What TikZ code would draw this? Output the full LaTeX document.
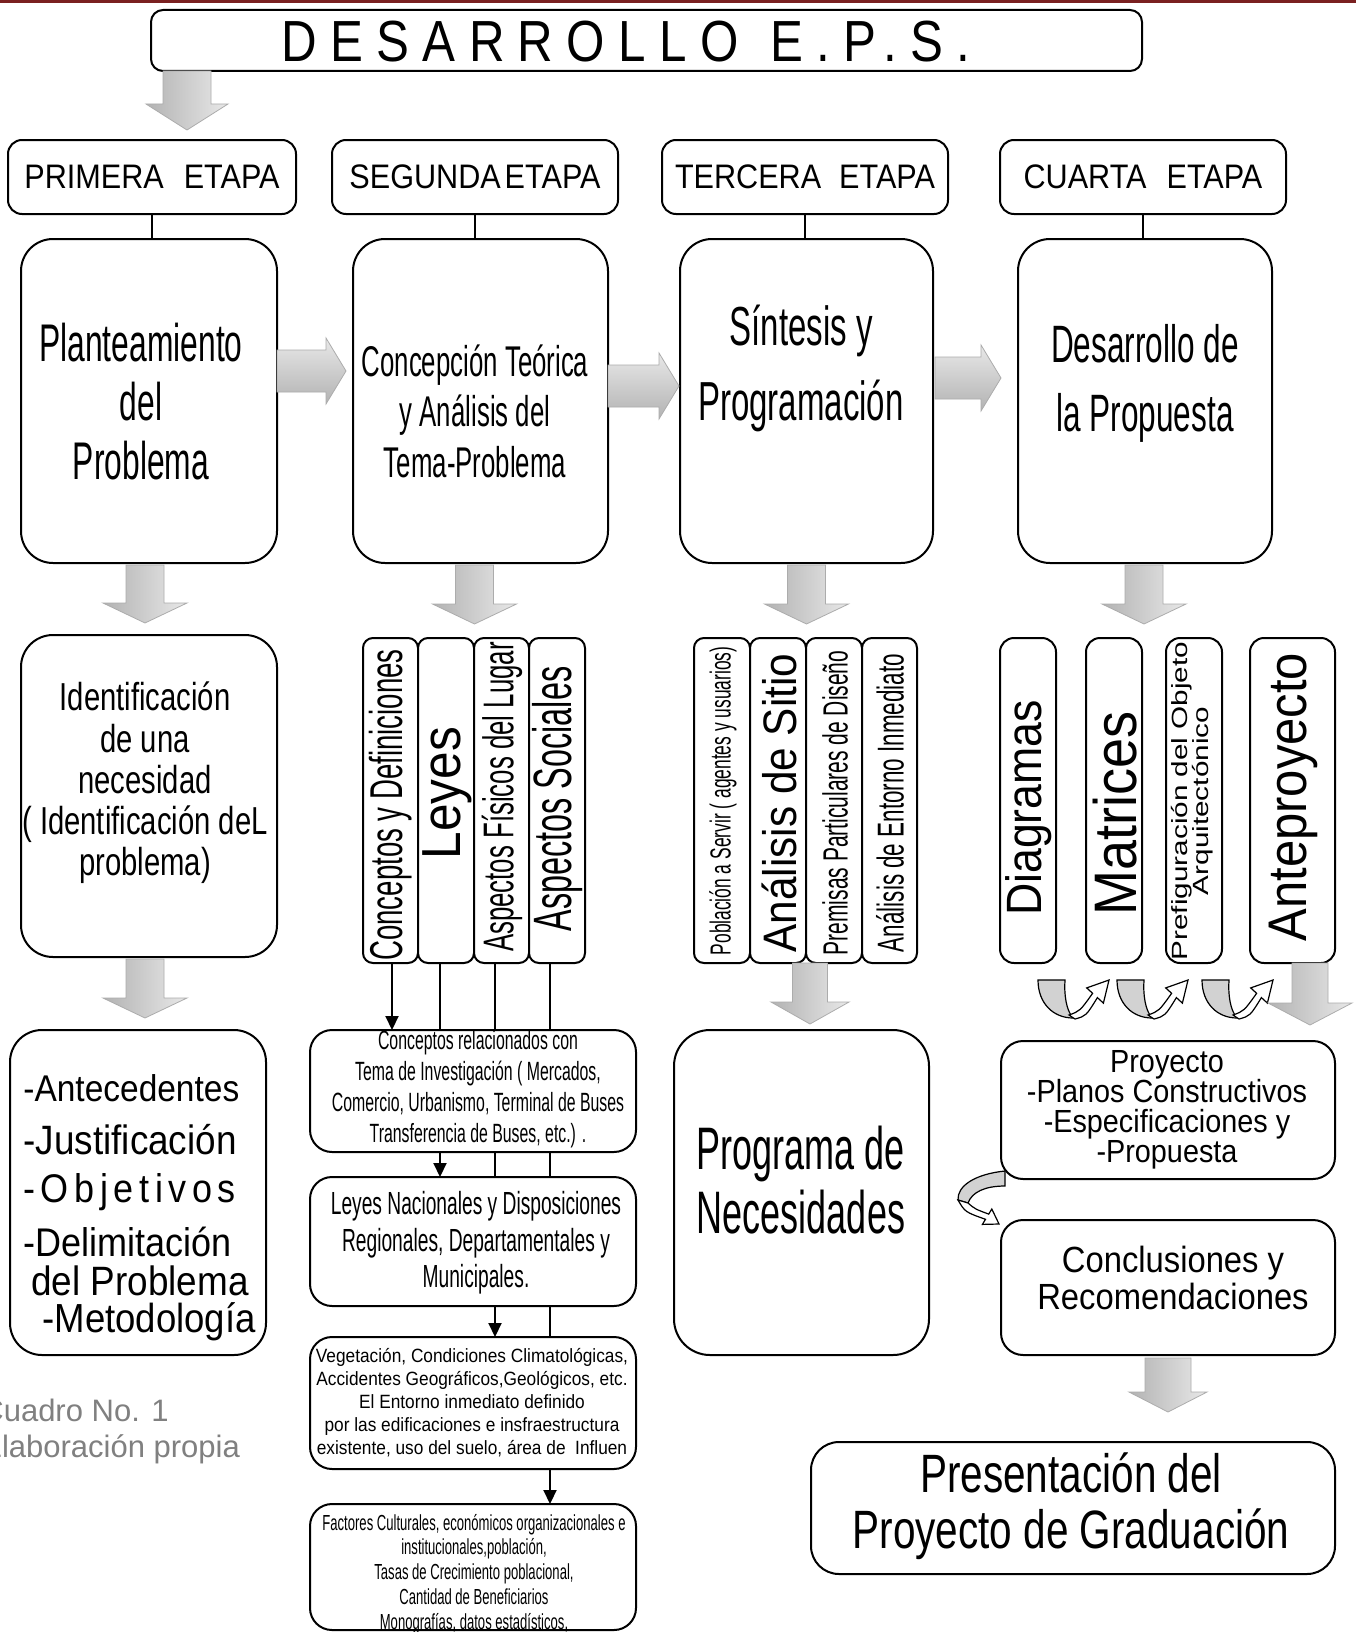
\documentclass[tikz,border=0pt]{standalone}
\usepackage{fontspec}
\newfontfamily\fnarrow[FakeStretch=0.6]{Liberation Sans}
\newfontfamily\fnmid[FakeStretch=0.75]{Liberation Sans}
\newfontfamily\fnwide[FakeStretch=0.9]{Liberation Sans}
\newfontfamily\fnext[FakeStretch=1.35]{Liberation Sans}
\newfontfamily\fncap{Liberation Sans}
\newfontfamily\fntitle[FakeStretch=0.85,LetterSpace=23]{Liberation Sans}
\newfontfamily\fnspaced[FakeStretch=0.9,LetterSpace=14]{Liberation Sans}
\usetikzlibrary{fit,calc,arrows.meta,backgrounds}
\newcommand\fs[2]{\fontsize{#1}{#2}\selectfont}
\definecolor{topred}{RGB}{122,32,32}
\definecolor{capgray}{RGB}{128,128,128}
\tikzset{
 bx/.style={draw, line width=1pt, fill=white, rounded corners=#1, inner sep=0pt, outer sep=0pt},
 bx/.default=7pt,
 lbl/.style={inner sep=0pt, align=center, text=black},
 conn/.style={line width=1pt},
 tipline/.style={conn, -{Triangle[length=7pt,width=6.5pt]}},
 blk/.style={left color=gray!60, right color=gray!18, draw=gray!65, line width=0.4pt},
 blkh/.style={top color=gray!18, bottom color=gray!60, draw=gray!65, line width=0.4pt},
 uband/.style={fill=gray!35, draw=black, line width=0.6pt},
 uhead/.style={fill=white, draw=black, line width=0.6pt},
}
\newcommand{\vblock}[5]{\path[blk] let \p1=(#1), \p2=(#2) in
 (\x1-#3,\y1) -- (\x1+#3,\y1) -- (\x1+#3,\y2+#5) -- (\x1+#4,\y2+#5) -- (\x1,\y2) -- (\x1-#4,\y2+#5) -- (\x1-#3,\y2+#5) -- cycle;}
\newcommand{\hblock}[5]{\path[blkh] let \p1=(#1), \p2=(#2) in
 (\x1,\y1+#3) -- (\x2-#5,\y1+#3) -- (\x2-#5,\y1+#4) -- (\x2,\y1) -- (\x2-#5,\y1-#4) -- (\x2-#5,\y1-#3) -- (\x1,\y1-#3) -- cycle;}
\newcommand{\uturn}[1]{\begin{scope}[shift={#1}]
 \path[uband] (0,0) .. controls (0,24) and (16,38) .. (35,38) .. controls (28,30) and (26,14) .. (27,0) -- cycle;
 \path[uhead] (31,35) .. controls (42,31) .. (54.6,13.3) -- (48.7,7.9) -- (71,0) -- (65.4,23.1) -- (59.4,17.6) .. controls (48,36) .. (37,39) -- cycle;
\end{scope}}
\begin{document}
\begin{tikzpicture}[x=0.5pt,y=-0.5pt]
\useasboundingbox (0,0) rectangle (1356,1632);
\begin{pgfonlayer}{background}
\fill[white] (0,0) rectangle (1356,1632);
\end{pgfonlayer}
\fill[topred] (0,0) rectangle (1356,3);

% title
\node[bx=6pt, fit={(151,10) (1142,71)}] (title) {};
\node[lbl, font=\fntitle\fs{29}{31}] (titlet) at (626,42) {DESARROLLO\hspace{16pt}E.P.S.};

% stage headers
\node[bx=7pt, fit={(8,140) (296,214)}] (s1) {};
\node[bx=7pt, fit={(332,140) (618,214)}] (s2) {};
\node[bx=7pt, fit={(662,140) (948,214)}] (s3) {};
\node[bx=7pt, fit={(1000,140) (1286,214)}] (s4) {};
\node[lbl, font=\fnwide\fs{17}{20}] (s1t) at (s1) {PRIMERA\hspace{10pt}ETAPA};
\node[lbl, font=\fnwide\fs{17}{20}] (s2t) at (s2) {SEGUNDA\hspace{2pt}ETAPA};
\node[lbl, font=\fnwide\fs{17}{20}] (s3t) at (s3) {TERCERA\hspace{9pt}ETAPA};
\node[lbl, font=\fnwide\fs{17}{20}] (s4t) at (s4) {CUARTA\hspace{10pt}ETAPA};

% main boxes
\node[bx=16pt, fit={(21,239) (277,563)}] (m1) {};
\node[bx=16pt, fit={(353,239) (608,563)}] (m2) {};
\node[bx=16pt, fit={(680,239) (933,563)}] (m3) {};
\node[bx=16pt, fit={(1018,239) (1272,563)}] (m4) {};
\node[lbl, font=\fnarrow\fs{26.5}{29.5}] (m1t) at (141,402) {Planteamiento\\del\\Problema};
\node[lbl, font=\fnarrow\fs{21.5}{25.3}] (m2t) at (475,411) {Concepción Teórica\\y Análisis del\\Tema-Problema};
\node[lbl, font=\fnarrow\fs{27.5}{37.5}] (m3t) at (801,368) {Síntesis y\\Programación};
\node[lbl, font=\fnarrow\fs{26.3}{34.5}] (m4t) at (1145,383) {Desarrollo de\\la Propuesta};

\foreach \i in {1,...,4}{\draw[conn] (s\i.south) -- (s\i.south |- m\i.north);}

% horizontal block arrows
\hblock{$(m1.east)+(0,-30)$}{$(m2.west)+(-7,0)$}{10.5pt}{16.5pt}{10pt}
\hblock{$(m2.east)+(0,-15)$}{$(m3.west)+(-1,0)$}{10.5pt}{16.5pt}{10pt}
\hblock{$(m3.east)+(2,-23)$}{$(m4.west)+(-17,0)$}{10.5pt}{16.5pt}{10pt}

% top block arrow
\coordinate (ta) at ($(title.south west)+(36,0)$);
\coordinate (tb) at ($(s1.north)+(0,-10)$);
\vblock{ta}{tb}{12pt}{20.5pt}{13pt}

% row 3
\node[bx=16pt, fit={(21,635) (277,957)}] (r1) {};
\node[lbl, font=\fnmid\fs{19.5}{20.6}] (r1t) at (145,783) {Identificación\\de una\\necesidad\\( Identificación deL\\problema)};

\node[bx=5pt, fit={(363,638) (418,963)}] (c1) {};
\node[bx=5pt, fit={(418,638) (474,963)}] (c2) {};
\node[bx=5pt, fit={(474,638) (529,963)}] (c3) {};
\node[bx=5pt, fit={(529,638) (585,963)}] (c4) {};
\node[lbl, rotate=90, font=\fnarrow\fs{23}{25}] (c1t) at (391,805) {Conceptos y Definiciones};
\node[lbl, rotate=90, font=\fnwide\fs{27.5}{29}] (c2t) at (447,793) {Leyes};
\node[lbl, rotate=90, font=\fnarrow\fs{21.5}{23}] (c3t) at (502,797) {Aspectos Físicos del Lugar};
\node[lbl, rotate=90, font=\fnarrow\fs{27}{29}] (c4t) at (558,799) {Aspectos Sociales};

\node[bx=5pt, fit={(694,638) (750,963)}] (t1) {};
\node[bx=5pt, fit={(750,638) (806,963)}] (t2) {};
\node[bx=5pt, fit={(806,638) (862,963)}] (t3) {};
\node[bx=5pt, fit={(862,638) (917,963)}] (t4) {};
\node[lbl, rotate=90, font=\fnarrow\fs{14.5}{16}] (t1t) at (723,801) {Población a Servir ( agentes y usuarios)};
\node[lbl, rotate=90, font=\fnwide\fs{23.5}{25}] (t2t) at (779,803) {Análisis de Sitio};
\node[lbl, rotate=90, font=\fnarrow\fs{17.5}{19}] (t3t) at (835,803) {Premisas Particulares de Diseño};
\node[lbl, rotate=90, font=\fnarrow\fs{18.7}{20}] (t4t) at (890,803) {Análisis de Entorno Inmediato};

\node[bx=7pt, fit={(1000,638) (1056,963)}] (d1) {};
\node[bx=7pt, fit={(1086,638) (1142,963)}] (d2) {};
\node[bx=7pt, fit={(1166,638) (1222,963)}] (d3) {};
\node[bx=7pt, fit={(1250,638) (1335,963)}] (d4) {};
\node[lbl, rotate=90, font=\fnwide\fs{24.8}{26}] (d1t) at (1029,808) {Diagramas};
\node[lbl, rotate=90, font=\fnwide\fs{30}{32}] (d2t) at (1115,813) {Matrices};
\node[lbl, rotate=90, font=\fnext\fs{11}{10.5}] (d3t) at (1192,801) {Prefiguración del Objeto\\Arquitectónico};
\node[lbl, rotate=90, font=\fnwide\fs{27.2}{29}] (d4t) at (1293,797) {Anteproyecto};

% down block arrows from main boxes
\vblock{$(m1.south)+(-4,2)$}{$(r1.north)+(0,-12)$}{9.5pt}{21pt}{10pt}
\vblock{$(m2.south)+(-6,2)$}{$(m2.south)+(0,61)$}{9.5pt}{21pt}{10pt}
\vblock{$(m3.south)+(0,2)$}{$(m3.south)+(0,61)$}{9.5pt}{21pt}{10pt}
\vblock{$(m4.south)+(-1,2)$}{$(m4.south)+(0,61)$}{9.5pt}{21pt}{10pt}

% row 4
\node[bx=16pt, fit={(10,1030) (266,1355)}] (q1) {};
\node[lbl, anchor=west, font=\fnwide\fs{18.6}{20}] (q1a) at (23,1088) {-Antecedentes};
\node[lbl, anchor=west, font=\fnwide\fs{20.5}{22}] (q1b) at (23,1140) {-Justificación};
\node[lbl, anchor=west, font=\fnspaced\fs{20}{22}] (q1c) at (23,1192) {-Objetivos};
\node[lbl, anchor=west, font=\fnwide\fs{20}{21}] (q1d) at (23,1242) {-Delimitación};
\node[lbl, anchor=west, font=\fnwide\fs{20.5}{21}] (q1e) at (31,1281) {del Problema};
\node[lbl, anchor=west, font=\fnwide\fs{20.3}{22}] (q1f) at (42,1322) {-Metodología};
\vblock{$(r1.south)+(-4,2)$}{$(q1.north)+(0,-12)$}{9.5pt}{21pt}{10pt}

\node[bx=11pt, fit={(310,1030) (636,1152)}] (k1) {};
\node[bx=11pt, fit={(310,1177) (636,1306)}] (k2) {};
\node[bx=11pt, fit={(310,1337) (636,1469)}] (k3) {};
\node[bx=11pt, fit={(310,1504) (636,1630)}] (k4) {};
\node[lbl, font=\fnarrow\fs{13.2}{15.5}] (k1t) at (478,1089) {Conceptos relacionados con\\Tema de Investigación ( Mercados,\\Comercio, Urbanismo, Terminal de Buses\\Transferencia de Buses, etc.) .};
\node[lbl, font=\fnarrow\fs{16}{18.3}] (k2t) at (476,1243) {Leyes Nacionales y Disposiciones\\Regionales, Departamentales y\\Municipales.};
\node[lbl, font=\fnwide\fs{9.6}{11.5}] (k3t) at (472,1403) {Vegetación, Condiciones Climatológicas,\\Accidentes Geográficos,Geológicos, etc.\\El Entorno inmediato definido\\por las edificaciones e insfraestructura\\existente, uso del suelo, área de\ \ Influen};
\node[lbl, font=\fnarrow\fs{10.9}{12.4}] (k4t) at (474,1574) {Factores Culturales, económicos organizacionales e\\institucionales,población,\\Tasas de Crecimiento poblacional,\\Cantidad de Beneficiarios\\Monografías, datos estadísticos,};

\begin{pgfonlayer}{background}
\coordinate (l1) at ($(c1.south)+(1.5,0)$);
\coordinate (l2) at ($(c2.south)+(-6,0)$);
\coordinate (l3) at ($(c3.south)+(-6.5,0)$);
\coordinate (l4) at ($(c4.south)+(-7,0)$);
\draw[tipline] (l1) -- (l1 |- k1.north);
\draw[tipline] (l2) -- (l2 |- k2.north);
\draw[tipline] (l3) -- (l3 |- k3.north);
\draw[tipline] (l4) -- (l4 |- k4.north);
\end{pgfonlayer}

\node[bx=18pt, fit={(674,1030) (929,1355)}] (p) {};
\node[lbl, font=\fnarrow\fs{30}{32}] (pt) at (801,1180) {Programa de\\Necesidades};
\vblock{$(t3.south west)+(4,0)$}{$(p.north)+(0,-6)$}{8.75pt}{19.5pt}{11pt}

% cuarta etapa lower part
\uturn{(1038,980)}
\uturn{(1117,980)}
\uturn{(1202,980)}
\node[bx=11pt, fit={(1001,1041) (1335,1179)}] (pr) {};
\node[lbl, font=\fnwide\fs{16}{15}] (prt) at (1167,1110) {Proyecto\\-Planos Constructivos\\-Especificaciones y\\-Propuesta};
\vblock{$(d4.south)+(17.5,0)$}{$(pr.north)+(0,-16)$}{9pt}{21pt}{11pt}
\node[bx=11pt, fit={(1001,1220) (1335,1355)}] (cn) {};
\node[lbl, font=\fnwide\fs{18.2}{18.5}] (cnt) at (1173,1278) {Conclusiones y\\Recomendaciones};
\path[uband] (1005,1171) .. controls (975,1174) and (957,1186) .. (958,1200) -- (968,1203) .. controls (972,1192) and (985,1186) .. (1005,1186) -- cycle;
\path[uhead] (958,1200) .. controls (965,1212) .. (985.5,1219.3) -- (982.4,1224.4) -- (999,1224) -- (991.8,1209) -- (988.7,1214.1) .. controls (975,1209) .. (968,1203) -- cycle;
\node[bx=14pt, fit={(811,1442) (1335,1574)}] (pg) {};
\node[lbl, font=\fnmid\fs{27}{28}] (pgt) at (1071,1506) {Presentación del\\Proyecto de Graduación};
\vblock{$(cn.south)+(0,3)$}{$(pg.north)+(0,-30)$}{11.5pt}{19.5pt}{10pt}

% caption
\node[inner sep=0pt, anchor=west, align=left, text=capgray, font=\fncap\fs{15.5}{18}] (cap) at (-19,1431) {Cuadro No. 1\\Elaboración propia};
\end{tikzpicture}
\end{document}
